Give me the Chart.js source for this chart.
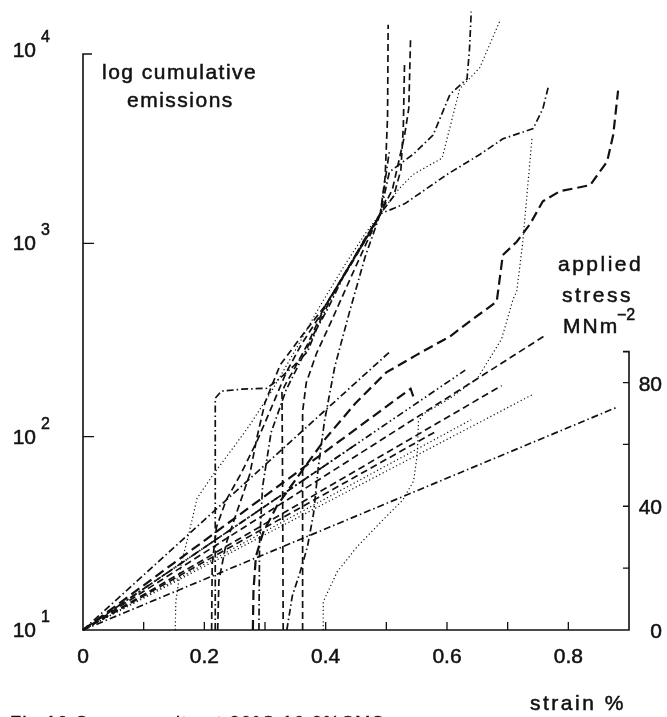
<!DOCTYPE html>
<html>
<head>
<meta charset="utf-8">
<script src="https://cdn.jsdelivr.net/npm/chart.js@4.4.1/dist/chart.umd.min.js"></script>
<style>
  html, body { margin: 0; padding: 0; background: #fff; }
  #wrap { width: 667px; height: 717px; }
</style>
</head>
<body>
<div id="wrap"><canvas id="aeChart"></canvas></div>
<script>
// axes
const strainTicks = [0, 0.2, 0.4, 0.6, 0.8];
const strainMinor = [0.1, 0.3, 0.5, 0.7];
const emissionTicks = [10, 100, 1000, 10000];
const stressTicks = [0, 40, 80];
const stressMinor = [20, 60];
const stressAxisTop = 90;

// log cumulative emissions, [strain %, count]
const emA = [[0.152,10],[0.153,14],[0.162,22],[0.175,32],[0.188,48],[0.215,64],[0.248,88],[0.275,115],[0.31,170],[0.35,280],[0.39,470],[0.43,760],[0.465,1120],[0.49,1420],[0.52,1900],[0.544,2270],[0.592,2760],[0.621,6300],[0.654,8100],[0.687,14100]];
const emB = [[0.218,10],[0.218,40],[0.218,158],[0.228,172],[0.262,176],[0.303,178],[0.32,195],[0.346,230],[0.37,275],[0.385,360],[0.402,450],[0.43,680],[0.46,1000],[0.49,1420],[0.53,1600],[0.6,2270],[0.654,2880],[0.692,3470],[0.742,3920],[0.758,4970],[0.767,6440]];
const emC = [[0.212,10],[0.213,22],[0.22,34],[0.236,47],[0.26,64],[0.287,95],[0.31,140],[0.335,215],[0.36,300],[0.39,420],[0.43,690],[0.47,1100],[0.49,1420],[0.512,1750],[0.524,2400],[0.528,4000],[0.53,8500]];
const emD = [[0.222,10],[0.224,18],[0.236,28],[0.255,42],[0.275,64],[0.287,100],[0.3,150],[0.325,235],[0.36,330],[0.4,480],[0.44,760],[0.47,1100],[0.49,1420],[0.51,1900],[0.53,3600],[0.537,5000],[0.54,11700]];
const emE = [[0.28,10],[0.281,16],[0.285,24],[0.297,32],[0.32,44],[0.36,66],[0.4,98],[0.45,150],[0.5,215],[0.55,265],[0.605,330],[0.64,400],[0.682,500],[0.692,870],[0.715,1020],[0.737,1260],[0.758,1650],[0.786,1860],[0.836,2000],[0.864,2650],[0.874,3640],[0.882,6170]];
const emF = [[0.29,10],[0.291,28],[0.296,55],[0.31,105],[0.335,175],[0.37,290],[0.41,530],[0.45,880],[0.49,1420],[0.505,2340],[0.545,2900],[0.577,3630],[0.605,5900],[0.633,7080],[0.637,10000],[0.64,15800]];
const emG = [[0.33,10],[0.329,60],[0.328,170],[0.333,185],[0.345,215],[0.37,300],[0.4,480],[0.44,770],[0.47,1100],[0.49,1420],[0.498,2200],[0.502,4500],[0.503,13500]];
const emH = [[0.336,10],[0.345,15],[0.358,20],[0.37,27],[0.38,40],[0.388,70],[0.398,120],[0.415,230],[0.44,450],[0.465,850],[0.49,1420],[0.497,2000],[0.505,3000]];
const emI = [[0.362,10],[0.362,60],[0.362,135],[0.368,190],[0.385,270],[0.41,400],[0.44,650],[0.47,1050],[0.49,1420],[0.5,1700]];
const emJ = [[0.396,10],[0.396,14],[0.419,20],[0.452,27],[0.494,37],[0.527,47],[0.545,59],[0.551,81],[0.553,120],[0.561,131],[0.605,158],[0.65,200],[0.69,320],[0.709,515],[0.715,565],[0.725,1020],[0.74,3480]];

// applied stress, [strain %, MNm-2]
const stA = [[0,0],[0.88,72]];
const stB = [[0,0],[0.76,95]];
const stC = [[0,0],[0.74,76]];
const stD = [[0,0],[0.69,79]];
const stE = [[0,0],[0.63,84]];
const stF = [[0,0],[0.54,78],[0.547,74]];
const stG = [[0,0],[0.506,90]];
const stH = [[0,0],[0.58,64]];
const stI = [[0,0],[0.64,68]];
const stJ = [[0,0],[0.45,60]];

const dashes = {
    dashed: [7, 4],
    heavy: [10, 5],
    dashdot: [7, 3, 1.5, 3],
    dotted: [1.2, 2.6],
    dashdotdot: [7, 3, 1.5, 3, 1.5, 3]
};

function line(points, style, axis) {
    return {
        data: points.map(p => ({ x: p[0], y: p[1] })),
        yAxisID: axis,
        borderColor: '#111',
        borderWidth: style === 'dotted' ? 1.2 : (style === 'heavy' ? 2.2 : 1.7),
        borderDash: dashes[style],
        pointRadius: 0,
        tension: 0,
        fill: false,
        clip: false
    };
}

const series = [
    line(emA, 'dotted', 'y'),
    line(emB, 'dashdot', 'y'),
    line(emC, 'dashed', 'y'),
    line(emD, 'dashed', 'y'),
    line(emE, 'heavy', 'y'),
    line(emF, 'dashdot', 'y'),
    line(emG, 'dashed', 'y'),
    line(emH, 'dashdot', 'y'),
    line(emI, 'dashed', 'y'),
    line(emJ, 'dotted', 'y'),
    line(stA, 'dashdot', 'y2'),
    line(stB, 'dashed', 'y2'),
    line(stC, 'dotted', 'y2'),
    line(stD, 'dashed', 'y2'),
    line(stE, 'dashdotdot', 'y2'),
    line(stF, 'heavy', 'y2'),
    line(stG, 'dashdot', 'y2'),
    line(stH, 'dashed', 'y2'),
    line(stI, 'dotted', 'y2'),
    line(stJ, 'dashdot', 'y2')
];

// printed lettering is a little heavier than the plain face, so fill + thin stroke
function ink(ctx, text, x, y, gap) {
    ctx.letterSpacing = (gap || 0) + 'px';
    ctx.fillText(text, x, y);
    ctx.strokeText(text, x, y);
    ctx.letterSpacing = '0px';
}

const paperAxes = {
    id: 'paperAxes',
    afterDraw(chart) {
        const { ctx, scales: { x, y, y2 } } = chart;
        const x0 = x.getPixelForValue(0);
        const xr = x.getPixelForValue(0.9);
        const yb = y.getPixelForValue(10);
        const yt = y.getPixelForValue(10000);
        const sTop = y2.getPixelForValue(stressAxisTop);

        ctx.save();
        ctx.strokeStyle = '#111';
        ctx.fillStyle = '#111';
        ctx.lineWidth = 1.6;
        ctx.setLineDash([]);

        ctx.beginPath();
        ctx.moveTo(x0 + 9, yt + 4);
        ctx.lineTo(x0, yt + 4);
        ctx.lineTo(x0, yb);
        ctx.lineTo(xr, yb);
        ctx.lineTo(xr, sTop);
        ctx.lineTo(xr - 6, sTop);
        ctx.stroke();

        ctx.lineWidth = 1.3;
        ctx.beginPath();
        strainTicks.concat(strainMinor).forEach(v => {
            if (v === 0) return;
            const px = x.getPixelForValue(v);
            ctx.moveTo(px, yb);
            ctx.lineTo(px, yb - 8);
        });
        [100, 1000].forEach(v => {
            const py = y.getPixelForValue(v);
            ctx.moveTo(x0, py);
            ctx.lineTo(x0 + 11, py);
        });
        stressTicks.concat(stressMinor).forEach(v => {
            if (v === 0) return;
            const py = y2.getPixelForValue(v);
            ctx.moveTo(xr, py);
            ctx.lineTo(xr - 6, py);
        });
        ctx.stroke();

        const big = '21px "Liberation Sans", Arial, sans-serif';
        const small = '16px "Liberation Sans", Arial, sans-serif';
        ctx.lineWidth = 0.5;
        ctx.font = big;
        ctx.textBaseline = 'alphabetic';

        ctx.textAlign = 'center';
        strainTicks.forEach(v => ink(ctx, String(v), x.getPixelForValue(v), 663));

        ctx.textAlign = 'right';
        stressTicks.forEach(v => ink(ctx, String(v), 662, y2.getPixelForValue(v) + 8));

        emissionTicks.forEach(v => {
            const py = y.getPixelForValue(v);
            ctx.textAlign = 'right';
            ctx.font = big;
            ink(ctx, '10', 36, py + 7);
            ctx.textAlign = 'left';
            ctx.font = small;
            ink(ctx, String(Math.round(Math.log10(v))), 41, py - 8);
        });

        ctx.font = big;
        ctx.textAlign = 'left';
        ink(ctx, 'log cumulative', 102, 79, 1.5);
        ink(ctx, 'emissions', 127, 107, 1.5);
        ink(ctx, 'applied', 558, 271, 2.5);
        ink(ctx, 'stress', 562, 302, 2.5);
        ink(ctx, 'MNm', 563, 333, 2);
        ctx.font = small;
        ink(ctx, '\u22122', 617, 320);
        ctx.font = big;
        ink(ctx, 'strain %', 530, 710, 2.5);
        ctx.font = '18px "Liberation Sans", Arial, sans-serif';
        ink(ctx, 'Fig.10 Some results at 20\u00B0C 16.2%CMS', 10, 729, 1.5);
        ctx.restore();
    }
};

new Chart(document.getElementById('aeChart'), {
    type: 'line',
    data: { datasets: series },
    options: {
        responsive: true,
        maintainAspectRatio: false,
        animation: false,
        layout: { padding: { left: 83, right: 38, top: 50, bottom: 87 } },
        plugins: { legend: { display: false }, tooltip: { enabled: false } },
        scales: {
            x: { type: 'linear', min: 0, max: 0.9, display: false },
            y: { type: 'logarithmic', min: 10, max: 10000, display: false },
            // the printed stress axis only runs to 90, over the lower part of the frame
            y2: { type: 'linear', min: 0, max: 187.5, display: false }
        }
    },
    plugins: [paperAxes]
});
</script>
</body>
</html>
